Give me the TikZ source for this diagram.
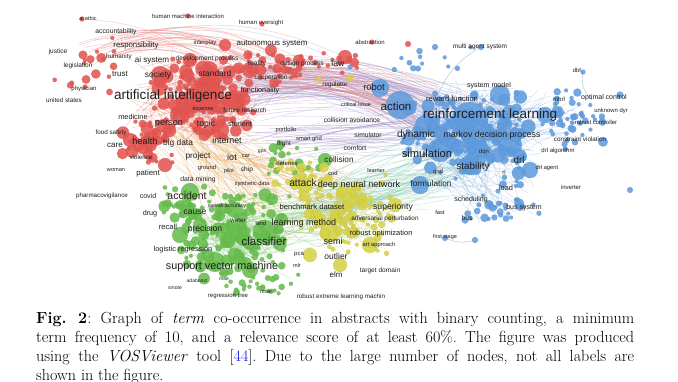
\documentclass[tikz,border=0pt]{standalone}
\usepackage{fontspec}
\newfontfamily\labfont{Liberation Sans}
\definecolor{nred}{RGB}{228,86,82}
\definecolor{nblue}{RGB}{96,156,222}
\definecolor{ngreen}{RGB}{104,190,78}
\definecolor{nyellow}{RGB}{214,210,72}
\definecolor{ered}{RGB}{232,118,116}
\definecolor{eblue}{RGB}{128,174,228}
\definecolor{epurple}{RGB}{158,140,200}
\definecolor{egreen}{RGB}{140,206,128}
\definecolor{eorange}{RGB}{232,168,90}
\definecolor{eteal}{RGB}{128,200,196}
\definecolor{eyellow}{RGB}{214,210,110}
\definecolor{caplink}{RGB}{20,20,230}
\tikzset{
  nodefill/.style={fill=#1, fill opacity=0.88, draw=#1!80!black, draw opacity=0.35, line width=0.15pt},
  edgeline/.style={draw=#1, line width=0.45pt, draw opacity=0.4},
  lbl/.style={font={\labfont\fontsize{#1}{#1}\selectfont}, text=black!88, inner sep=0.3pt},
  captext/.style={anchor=base west, inner sep=0pt, font={\fontsize{16.1}{19}\selectfont\frenchspacing}}
}
\newcommand\randpt[4]{\pgfmathsetmacro\px{#1+#3*(rand+rand)/2}\pgfmathsetmacro\py{#2+#4*(rand+rand)/2}}
\newcommand\edgeset[5]{\foreach \k in {1,...,#2}{\randpt#3\let\ax\px\let\ay\py\randpt#4\pgfmathsetmacro\bd{#5}\draw[edgeline=#1] (\ax,\ay) to[bend left=\bd] (\px,\py);}}
\newcommand\blob[5]{\foreach \k in {1,...,#2}{\randpt#3\pgfmathsetmacro\rr{#4+(#5-#4)*rnd^3}\fill[nodefill=#1] (\px,\py) circle[radius=\rr pt];}}
\newcommand\bigc[4]{\fill[nodefill=#1] (#2,#3) circle[radius=#4pt];}
\begin{document}
\begin{tikzpicture}[x=1pt,y=-1pt]
\useasboundingbox (0,0) rectangle (678,381);
\fill[white] (0,0) rectangle (678,381);
\pgfmathsetseed{7}
% ---------------- edges
\edgeset{ered}{220}{{200}{100}{80}{55}}{{200}{100}{80}{55}}{30*rand}
\edgeset{ered}{30}{{110}{50}{40}{20}}{{260}{70}{60}{25}}{20+10*rnd}
\edgeset{epurple}{80}{{240}{90}{60}{35}}{{450}{120}{60}{35}}{10+15*rnd}
\edgeset{ered}{35}{{250}{80}{50}{30}}{{420}{110}{50}{30}}{10+15*rnd}
\edgeset{eblue}{280}{{470}{135}{80}{55}}{{470}{135}{80}{55}}{30*rand}
\edgeset{eblue}{35}{{560}{120}{50}{40}}{{480}{130}{60}{40}}{20*rand}
\edgeset{eblue}{30}{{500}{205}{50}{25}}{{460}{150}{50}{40}}{20*rand}
\edgeset{egreen}{170}{{235}{235}{65}{45}}{{235}{235}{65}{45}}{30*rand}
\edgeset{eyellow}{90}{{345}{215}{55}{45}}{{345}{215}{55}{45}}{30*rand}
\edgeset{egreen}{55}{{240}{230}{50}{40}}{{345}{210}{50}{40}}{20*rand}
\edgeset{eorange}{55}{{180}{130}{50}{40}}{{260}{210}{60}{40}}{25*rand}
\edgeset{eteal}{55}{{330}{200}{50}{40}}{{450}{160}{50}{40}}{20*rand}
\edgeset{epurple}{35}{{280}{140}{60}{25}}{{420}{130}{40}{30}}{10*rand}
\edgeset{eorange}{30}{{220}{150}{40}{30}}{{340}{200}{50}{40}}{20*rand}
\edgeset{egreen}{20}{{260}{210}{60}{40}}{{430}{180}{40}{30}}{15*rand}
% explicit arcs
\coordinate (e1) at (82,19); \coordinate (e2) at (210,62);
\coordinate (e3) at (481,47); \coordinate (e4) at (436,100);
\coordinate (e5) at (583,72); \coordinate (e6) at (592,100);
\coordinate (e7) at (120,40); \coordinate (e8) at (345,57);
\coordinate (e9) at (445,238); \coordinate (e10) at (475,240);
\coordinate (e11) at (150,30); \coordinate (e12) at (395,95);
\draw[edgeline=ered] (e1) to[bend left=15] (e2);
\draw[edgeline=eblue, draw opacity=0.7] (e3) to[bend right=20] (e4);
\draw[edgeline=eblue, draw opacity=0.7] (e5) to[bend right=30] (e6);
\draw[edgeline=ered] (e7) to[bend left=20] (e8);
\draw[edgeline=eblue, draw opacity=0.7] (e9) to[bend right=20] (e10);
\draw[edgeline=epurple] (e11) to[bend left=20] (e12);
% ---------------- big circles
\bigc{nred}{205}{92}{15} \bigc{nred}{180}{115}{10} \bigc{nred}{235}{100}{10}
\bigc{nred}{160}{75}{9} \bigc{nred}{220}{130}{9} \bigc{nred}{150}{140}{8}
\bigc{nred}{250}{70}{8} \bigc{nred}{345}{57}{7} \bigc{nred}{225}{45}{6}
\bigc{nred}{130}{140}{7} \bigc{nred}{165}{165}{7} \bigc{nred}{190}{60}{7}
\bigc{nblue}{470}{120}{18} \bigc{nblue}{400}{105}{14} \bigc{nblue}{440}{150}{12}
\bigc{nblue}{510}{145}{12} \bigc{nblue}{500}{95}{10} \bigc{nblue}{425}{125}{10}
\bigc{nblue}{380}{88}{9} \bigc{nblue}{470}{165}{10} \bigc{nblue}{530}{170}{8}
\bigc{nblue}{420}{185}{9} \bigc{nblue}{545}{115}{8}
\bigc{ngreen}{265}{232}{12} \bigc{ngreen}{190}{192}{9} \bigc{ngreen}{215}{262}{10}
\bigc{ngreen}{235}{210}{8} \bigc{ngreen}{180}{235}{8} \bigc{ngreen}{250}{270}{8}
\bigc{ngreen}{325}{160}{7} \bigc{ngreen}{200}{225}{7}
\bigc{nyellow}{330}{232}{10} \bigc{nyellow}{370}{245}{8} \bigc{nyellow}{305}{185}{8}
\bigc{nyellow}{350}{200}{8} \bigc{nyellow}{395}{205}{7} \bigc{nyellow}{340}{265}{7}
\bigc{nyellow}{310}{255}{7}
% ---------------- random circles
\blob{nred}{180}{{200}{100}{55}{45}}{2}{8}
\blob{nred}{45}{{150}{140}{30}{30}}{2}{7}
\blob{nred}{45}{{280}{65}{55}{20}}{2}{6}
\blob{nred}{18}{{90}{70}{45}{35}}{2}{5}
\blob{nred}{10}{{340}{60}{20}{15}}{2}{5}
\blob{nblue}{210}{{470}{135}{70}{50}}{2}{8}
\blob{nblue}{50}{{570}{120}{40}{35}}{2}{5}
\blob{nblue}{35}{{500}{205}{45}{25}}{2}{5}
\blob{nblue}{12}{{440}{60}{50}{15}}{2}{4}
\blob{ngreen}{190}{{235}{235}{60}{45}}{2}{7}
\blob{ngreen}{40}{{185}{205}{25}{25}}{2}{6}
\blob{ngreen}{25}{{260}{285}{50}{12}}{2}{4}
\blob{ngreen}{20}{{290}{160}{40}{20}}{2}{5}
\blob{nyellow}{140}{{345}{215}{55}{45}}{2}{6}
\blob{nyellow}{25}{{300}{175}{30}{20}}{2}{5}
% isolated dots
\bigc{nred}{82}{19}{2.5} \bigc{nred}{188}{16}{2.5} \bigc{nred}{262}{24}{2.5}
\bigc{nred}{372}{42}{2.5} \bigc{nred}{408}{44}{3} \bigc{nblue}{435}{47}{3}
\bigc{nblue}{481}{47}{3} \bigc{nblue}{583}{72}{2.5} \bigc{nblue}{620}{95}{3.5}
\bigc{nblue}{445}{238}{3} \bigc{nblue}{475}{240}{3} \bigc{nblue}{630}{190}{3}
\bigc{nyellow}{319}{79}{2.8} \bigc{nyellow}{350}{78}{3.5} \bigc{nblue}{350}{67}{2.5}
% ---------------- labels
\node[lbl=5.5] (l1) at (88,19) {ai ethic};
\node[lbl=6] (l2) at (188,16) {human machine interaction};
\node[lbl=6] (l3) at (261,23) {human oversight};
\node[lbl=6.8] (l4) at (116,32) {accountability};
\node[lbl=7.8] (l5) at (136,45) {responsibility};
\node[lbl=6.5] (l6) at (58,52) {justice};
\node[lbl=6.3] (l7) at (119,57) {humanity};
\node[lbl=8.1] (l8) at (152,60) {ai system};
\node[lbl=6.6] (l9) at (207,59) {development process};
\node[lbl=6] (l10) at (205,43) {interplay};
\node[lbl=7.9] (l11) at (272,44) {autonomous system};
\node[lbl=6.5] (l12) at (78,66) {legislation};
\node[lbl=8] (l13) at (120,74) {trust};
\node[lbl=8.4] (l14) at (158,75) {society};
\node[lbl=8.4] (l15) at (215,73) {standard};
\node[lbl=6.8] (l16) at (257,64) {reality};
\node[lbl=6.4] (l17) at (302,64) {design process};
\node[lbl=8.7] (l18) at (338,63) {law};
\node[lbl=6] (l19) at (370,42) {abstraction};
\node[lbl=6.3] (l20) at (271,78) {cooperation};
\node[lbl=6.4] (l21) at (335,85) {regulator};
\node[lbl=9.4] (l22) at (374,87) {robot};
\node[lbl=7.3] (l23) at (260,91) {functionality};
\node[lbl=6] (l24) at (84,89) {physician};
\node[lbl=6.3] (l25) at (64,100) {united states};
\node[lbl=13.6] (l26) at (173,96) {artificial intelligence};
\node[lbl=7.3] (l27) at (133,117) {medicine};
\node[lbl=5.5] (l28) at (203,110) {expense};
\node[lbl=6.4] (l29) at (245,110) {future research};
\node[lbl=9.2] (l30) at (169,124) {person};
\node[lbl=8.6] (l31) at (206,124) {topic};
\node[lbl=7.2] (l32) at (240,124) {student};
\node[lbl=5.8] (l33) at (286,130) {portfolio};
\node[lbl=6.3] (l34) at (111,133) {food safety};
\node[lbl=9.2] (l35) at (145,141) {health};
\node[lbl=8.4] (l36) at (178,143) {big data};
\node[lbl=8.8] (l37) at (227,140) {internet};
\node[lbl=8] (l38) at (115,145) {care};
\node[lbl=5.8] (l39) at (309,139) {smart grid};
\node[lbl=6.2] (l40) at (141,157) {violence};
\node[lbl=8.3] (l41) at (198,156) {project};
\node[lbl=9] (l42) at (232,157) {iot};
\node[lbl=5.6] (l43) at (246,156) {car};
\node[lbl=5] (l44) at (262,152) {gps};
\node[lbl=6.5] (l45) at (284,144) {flight};
\node[lbl=5.6] (l46) at (116,170) {woman};
\node[lbl=7.8] (l47) at (148,173) {patient};
\node[lbl=5.8] (l48) at (207,168) {ground};
\node[lbl=5.3] (l49) at (229,171) {pilot};
\node[lbl=6.6] (l50) at (247,170) {ship};
\node[lbl=6] (l51) at (287,163) {defense};
\node[lbl=6.7] (l52) at (352,120) {collision avoidance};
\node[lbl=5.5] (l53) at (356,105) {critical issue};
\node[lbl=6.7] (l54) at (368,135) {simulator};
\node[lbl=6.8] (l55) at (355,148) {comfort};
\node[lbl=8.2] (l56) at (339,160) {collision};
\node[lbl=5.8] (l57) at (333,173) {cod};
\node[lbl=5.6] (l58) at (376,170) {learner};
\node[lbl=6.8] (l59) at (198,180) {data mining};
\node[lbl=5.6] (l60) at (252,184) {synthetic data};
\node[lbl=10.3] (l61) at (303,183) {attack};
\node[lbl=9.1] (l62) at (359,185) {deep neural network};
% green
\node[lbl=6.2] (g1) at (102,196) {pharmacovigilance};
\node[lbl=7] (g2) at (148,196) {covid};
\node[lbl=10.5] (g3) at (187,196) {accident};
\node[lbl=5.3] (g4) at (227,206) {overall accuracy};
\node[lbl=7.2] (g5) at (150,214) {drug};
\node[lbl=8.5] (g6) at (195,212) {cause};
\node[lbl=6.2] (g7) at (238,221) {water};
\node[lbl=5.6] (g8) at (261,223) {land};
\node[lbl=7.6] (g9) at (312,207) {benchmark dataset};
\node[lbl=8.6] (g10) at (393,207) {superiority};
\node[lbl=7.6] (g11) at (168,227) {recall};
\node[lbl=8.6] (g12) at (205,229) {precision};
\node[lbl=9] (g13) at (304,223) {learning method};
\node[lbl=6.4] (g14) at (385,219) {adversarial perturbation};
\node[lbl=11.5] (g15) at (264,241) {classifier};
\node[lbl=9] (g16) at (333,241) {semi};
\node[lbl=7.5] (g17) at (381,234) {robust optimization};
\node[lbl=5.8] (g18) at (379,245) {art approach};
\node[lbl=7.3] (g19) at (183,250) {logistic regression};
\node[lbl=6] (g20) at (299,255) {pca};
\node[lbl=8.5] (g21) at (336,256) {outlier};
\node[lbl=10.8] (g22) at (222,267) {support vector machine};
\node[lbl=5.5] (g23) at (297,266) {mlr};
\node[lbl=6.6] (g24) at (380,271) {target domain};
\node[lbl=8] (g25) at (336,275) {elm};
\node[lbl=5] (g26) at (197,281) {adaboost};
\node[lbl=5] (g27) at (224,279) {mae};
\node[lbl=5] (g28) at (175,288) {smote};
\node[lbl=6] (g29) at (228,296) {regression tree};
\node[lbl=5.3] (g30) at (266,292) {rmse};
\node[lbl=6.3] (g31) at (341,297) {robust extreme learning machin};
% blue
\node[lbl=6.5] (b1) at (480,47) {multi agent system};
\node[lbl=5.8] (b2) at (577,70) {dbf};
\node[lbl=7.1] (b3) at (489,86) {system model};
\node[lbl=7.6] (b4) at (452,99) {reward function};
\node[lbl=6.2] (b5) at (559,99) {mbrl};
\node[lbl=7] (b6) at (604,98) {optimal control};
\node[lbl=5.9] (b7) at (611,111) {unknown dyr};
\node[lbl=11.5] (b8) at (396,106) {action};
\node[lbl=13.5] (b9) at (490,115) {reinforcement learning};
\node[lbl=5.9] (b10) at (596,122) {robust controller};
\node[lbl=10.2] (b11) at (416,135) {dynamic};
\node[lbl=8.8] (b12) at (492,135) {markov decision process};
\node[lbl=6.3] (b13) at (580,139) {constraint violation};
\node[lbl=11.2] (b14) at (427,153) {simulation};
\node[lbl=6] (b15) at (484,152) {dqn};
\node[lbl=6] (b16) at (558,151) {drl algorithm};
\node[lbl=9.8] (b17) at (519,160) {drl};
\node[lbl=9.9] (b18) at (473,167) {stability};
\node[lbl=6] (b19) at (438,172) {grid};
\node[lbl=6] (b20) at (504,172) {rl};
\node[lbl=5.8] (b21) at (547,168) {drl agent};
\node[lbl=8.3] (b22) at (431,184) {formulation};
\node[lbl=7.4] (b23) at (506,188) {load};
\node[lbl=6] (b24) at (571,187) {inverter};
\node[lbl=7] (b25) at (471,200) {scheduling};
\node[lbl=7] (b26) at (524,208) {bus system};
\node[lbl=5.8] (b27) at (440,212) {fast};
\node[lbl=6.8] (b28) at (467,218) {bus};
\node[lbl=5.5] (b29) at (445,237) {first stage};
% ---------------- caption
\node[captext] (cap1) at (36,323.5) {\makebox[598pt][s]{\textbf{Fig.\ 2}: Graph of \textit{term} co-occurrence in abstracts with binary counting, a minimum}};
\node[captext] (cap2) at (36,342.5) {\makebox[598pt][s]{term frequency of 10, and a relevance score of at least 60\%. The figure was produced}};
\node[captext] (cap3) at (36,361.5) {\makebox[598pt][s]{using the \textit{VOSViewer} tool [\textcolor{caplink}{44}]. Due to the large number of nodes, not all labels are}};
\node[captext] (cap4) at (36,380.5) {shown in the figure.};
\end{tikzpicture}
\end{document}
